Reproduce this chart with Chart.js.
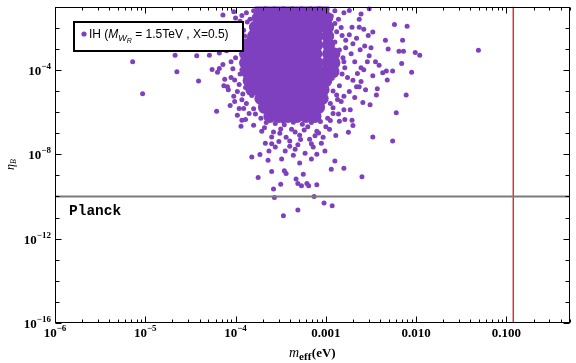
<!DOCTYPE html>
<html>
<head>
<meta charset="utf-8">
<script src="https://cdn.jsdelivr.net/npm/chart.js@4.4.0/dist/chart.umd.min.js"></script>
<style>
html, body { margin: 0; padding: 0; background: #fff; }
</style>
</head>
<body>
<canvas id="c" width="576" height="363"></canvas>
<script>
// values are stored as log10 exponents: [log10(m_eff), log10(eta_B)]
const outerPts = [
  [-5.14,-3.62],[-5.03,-5.14],[-4.67,-3.31],[-4.65,-4.09],[-4.43,-3.34],[-4.29,-3.31],
  [-4.41,-4.53],[-4.21,-5.97],[-4.14,-1.40],[-3.93,-1.43],[-1.31,-3.07],[-2.24,-1.85],
  [-2.10,-1.94],[-2.34,-2.60],[-2.15,-2.60],[-2.31,-3.02],[-2.19,-3.12],[-2.14,-3.12],
  [-2.01,-3.18],[-1.96,-3.31],[-2.16,-3.70],[-2.05,-4.12],[-2.26,-4.06],[-2.33,-4.06],
  [-2.32,-4.48],[-2.11,-5.19],[-2.22,-6.03],[-2.26,-7.38],[-2.48,-7.19],[-2.60,-9.07],
  [-2.80,-8.67],[-2.94,-8.71],[-2.90,-8.32],[-2.93,-10.44],[-3.02,-10.31],[-3.13,-10.00],
  [-3.31,-10.64],[-3.47,-10.92],[-3.57,-10.05],[-3.58,-9.65],[-3.50,-9.42],[-3.75,-9.11],
  [-3.60,-8.82],[-3.44,-8.92],[-3.46,-8.79],[-3.33,-9.18],[-3.31,-9.39],[-3.27,-9.50],
  [-3.21,-9.39],[-3.19,-9.50],[-3.10,-9.45],[-3.25,-8.95],[-3.82,-8.13],[-3.73,-8.01],
  [-3.64,-8.29],[-3.94,-6.68],[-3.93,-6.39],[-4.06,-5.69],[-4.01,-5.50],[-3.93,-5.42],
  [-3.96,-5.84],[-3.91,-5.84],[-4.14,-3.75],[-4.26,-3.98],[-4.20,-4.12],[-4.18,-3.94],
  [-4.13,-4.75],[-4.09,-4.80],[-4.08,-4.95],[-4.05,-4.37],[-4.01,-4.48],[-2.75,-6.96],
  [-2.70,-6.64],[-2.79,-6.35],[-2.71,-6.39],[-2.89,-7.11],[-2.80,-5.89],[-2.73,-5.89],
  [-2.59,-5.55],[-2.51,-5.66],[-2.44,-5.20],[-2.43,-4.90],[-2.56,-4.94],[-2.63,-4.80],
  [-2.80,-1.30],[-2.74,-1.19],[-2.52,-1.11],[-2.63,-1.61],[-2.61,-1.35],[-2.71,-1.98],
  [-2.63,-1.98],[-2.58,-2.08],[-2.48,-2.21],[-2.53,-2.37],[-2.82,-2.37],[-2.74,-2.34],
  [-2.78,-2.60],[-2.37,-4.14],[-2.41,-3.78]
];

// scattered points hugging the dense core
const fringePts = [
  [-2.90,-2.68],[-2.85,-3.06],[-2.81,-3.43],[-2.87,-3.71],[-2.79,-3.90],[-2.72,-3.24],
  [-2.68,-3.62],[-2.76,-4.37],[-2.65,-4.18],[-2.61,-3.90],[-2.85,-4.75],[-2.74,-5.03],
  [-2.68,-5.31],[-2.87,-5.41],[-2.52,-3.34],[-2.57,-2.87],[-2.48,-4.28],[-2.61,-4.56],
  [-2.92,-6.07],[-2.85,-6.44],[-2.96,-6.82],[-2.83,-5.50],[-2.54,-3.62],[-2.70,-2.77],
  [-2.50,-2.96],[-2.45,-3.62],
  [-2.90,-1.20],[-2.86,-1.60],[-2.83,-2.00],[-2.78,-2.95],[-2.92,-3.20],[-2.90,-3.95],
  [-2.82,-4.20],[-2.70,-4.50],[-2.93,-4.40],[-2.88,-5.20],[-2.80,-5.25],[-2.92,-5.80],
  [-2.86,-6.10],[-2.95,-6.40],[-2.66,-2.50],[-2.62,-3.05],[-2.58,-4.00],[-2.66,-4.80],
  [-2.94,-2.45],[-2.80,-3.62],
  [-3.87,-1.74],[-3.91,-2.12],[-3.85,-2.49],[-3.96,-2.87],[-3.89,-3.15],[-4.00,-3.43],
  [-3.85,-3.71],[-3.93,-4.00],[-4.05,-3.62],[-3.87,-4.37],[-3.98,-5.03],[-3.89,-4.84],
  [-3.82,-5.22],[-3.85,-6.07],[-3.89,-6.35],[-3.80,-6.63],[-4.07,-2.68],[-4.00,-2.21],
  [-4.02,-1.25],[-3.95,-1.70],[-4.08,-1.95],[-3.98,-2.55],[-4.10,-3.10],[-3.92,-3.30],
  [-4.03,-3.95],[-3.95,-4.20],[-4.12,-4.45],[-3.96,-4.70],[-3.84,-5.00],[-3.92,-5.15],
  [-4.02,-5.25],[-3.88,-5.60],[-3.80,-5.85],[-3.78,-6.10],[-3.98,-6.15],[-3.86,-2.90],
  [-3.83,-3.90],[-3.86,-4.10],[-4.15,-2.50],[-4.18,-3.20],[-4.00,-1.55],[-3.88,-1.30],
  [-3.71,-6.91],[-3.60,-7.19],[-3.51,-7.01],[-3.40,-7.38],[-3.29,-7.10],[-3.18,-7.29],
  [-3.10,-6.91],[-3.05,-7.48],[-3.56,-7.66],[-3.45,-7.85],[-3.34,-7.76],[-3.23,-7.95],
  [-3.14,-7.66],[-3.67,-7.48],[-3.49,-8.23],[-3.29,-8.42],[-3.16,-8.23],[-3.01,-7.85],
  [-3.38,-6.82],[-3.63,-7.85],
  [-3.66,-6.50],[-3.56,-6.55],[-3.46,-6.60],[-3.36,-6.48],[-3.26,-6.58],[-3.16,-6.50],
  [-3.06,-6.45],[-3.00,-6.70],[-3.50,-6.80],[-3.24,-6.85],[-3.12,-7.12],[-3.44,-7.20],
  [-3.31,-7.55],[-3.72,-6.30],[-2.98,-6.30],
  [-3.68,-6.75],[-3.58,-6.95],[-3.47,-6.45],[-3.34,-6.95],[-3.20,-6.70],[-3.08,-7.00],
  [-3.52,-7.40],[-3.40,-7.62],[-3.28,-7.30],[-3.16,-7.50],[-3.03,-7.20],[-3.60,-7.50],
  [-3.36,-8.05],[-3.10,-8.00],
  [-3.80,-1.20],[-3.84,-1.60],[-2.94,-1.45],[-2.90,-1.80],[-2.88,-2.20],[-2.92,-5.00],
  [-2.95,-5.60],[-3.90,-2.40],[-3.94,-3.00],[-3.88,-4.60]
];

// the solid blob, one row per eta exponent
const coreEta = [-1.13,-1.55,-1.98,-2.40,-2.82,-3.24,-3.67,-4.09,-4.51,-4.94,-5.36,-5.78,-6.21];
const coreM = [
  [-3.72,-3.62,-3.52,-3.42,-3.32,-3.22,-3.12,-3.03],
  [-3.75,-3.65,-3.55,-3.45,-3.35,-3.25,-3.15,-3.05,-2.99],
  [-3.78,-3.68,-3.58,-3.48,-3.38,-3.28,-3.18,-3.08,-2.98],
  [-3.80,-3.70,-3.60,-3.50,-3.40,-3.30,-3.20,-3.10,-2.98],
  [-3.88,-3.80,-3.70,-3.60,-3.50,-3.40,-3.30,-3.20,-3.10,-2.97],
  [-3.89,-3.81,-3.71,-3.61,-3.51,-3.41,-3.31,-3.21,-3.11,-2.97,-2.91],
  [-3.89,-3.80,-3.70,-3.60,-3.50,-3.40,-3.30,-3.20,-3.10,-2.98,-2.91],
  [-3.87,-3.78,-3.68,-3.58,-3.48,-3.38,-3.28,-3.18,-3.08,-2.99,-2.92],
  [-3.85,-3.76,-3.66,-3.56,-3.46,-3.36,-3.26,-3.16,-3.06,-3.00],
  [-3.82,-3.74,-3.64,-3.54,-3.44,-3.34,-3.24,-3.14,-3.03],
  [-3.72,-3.62,-3.52,-3.42,-3.32,-3.22,-3.12,-3.04],
  [-3.68,-3.58,-3.48,-3.38,-3.28,-3.18,-3.08],
  [-3.62,-3.52,-3.42,-3.32,-3.22,-3.12]
];

const planckEta = 1e-10;
const mCut = 0.119;

const xTicks = [1e-6, 1e-5, 1e-4, 1e-3, 1e-2, 1e-1];
const xTickLabels = ['10^-6', '10^-5', '10^-4', '0.001', '0.010', '0.100'];
const yTicks = [1e-16, 1e-12, 1e-8, 1e-4];
const yTickLabels = ['10^-16', '10^-12', '10^-8', '10^-4'];

const purple = '#7f40bf';

const toPoint = p => ({ x: Math.pow(10, p[0]), y: Math.pow(10, p[1]) });
const smallDots = outerPts.concat(fringePts).map(toPoint);
const bigDots = [];
coreEta.forEach((e, i) => coreM[i].forEach(m => bigDots.push(toPoint([m, e]))));

function drawPow(ctx, txt, x, y, align, size) {
    // "10^-4" style label, y is the baseline of the base
    const parts = txt.split('^');
    ctx.textAlign = 'left';
    ctx.textBaseline = 'alphabetic';
    const bf = 'bold ' + size + 'px "Liberation Serif"';
    const ef = 'bold ' + Math.round(size * 0.7) + 'px "Liberation Serif"';
    ctx.font = bf;
    const wb = ctx.measureText(parts[0]).width;
    let we = 0;
    if (parts[1]) { ctx.font = ef; we = ctx.measureText(parts[1].replace('-', '\u2212')).width; }
    const total = wb + we;
    let sx = align === 'center' ? x - total / 2 : (align === 'right' ? x - total : x);
    ctx.font = bf;
    ctx.fillText(parts[0], sx, y);
    if (parts[1]) {
        ctx.font = ef;
        ctx.fillText(parts[1].replace('-', '\u2212'), sx + wb, y - size * 0.45);
    }
}

const framePlugin = {
    id: 'frame',
    afterDraw(chart) {
        const { ctx, chartArea: a, scales: { x, y } } = chart;
        ctx.save();
        ctx.strokeStyle = '#000';
        ctx.fillStyle = '#000';
        ctx.lineWidth = 1;
        const L = Math.round(a.left) + 0.5, R = Math.round(a.right) - 0.5;
        const T = Math.round(a.top) + 0.5, B = Math.round(a.bottom) - 0.5;
        ctx.strokeRect(L, T, R - L, B - T);

        // x ticks, bottom and top, pointing inward
        ctx.beginPath();
        for (let d = -6; d <= -1; d++) {
            for (let k = 1; k <= 9; k++) {
                const v = k * Math.pow(10, d);
                if (v > x.max) break;
                const px = Math.round(x.getPixelForValue(v)) + 0.5;
                const len = k === 1 ? 6 : 3;
                ctx.moveTo(px, B); ctx.lineTo(px, B - len);
                ctx.moveTo(px, T); ctx.lineTo(px, T + len);
            }
        }
        // y ticks every decade
        for (let d = -16; d <= -1; d++) {
            const py = Math.round(y.getPixelForValue(Math.pow(10, d))) + 0.5;
            const len = d % 4 === 0 ? 6 : 4;
            ctx.moveTo(L, py); ctx.lineTo(L + len, py);
            ctx.moveTo(R, py); ctx.lineTo(R - len, py);
        }
        ctx.stroke();

        // tick labels
        xTicks.forEach((v, i) => {
            drawPow(ctx, xTickLabels[i], x.getPixelForValue(v), 337, 'center', 13);
        });
        yTicks.forEach((v, i) => {
            drawPow(ctx, yTickLabels[i], 51, y.getPixelForValue(v) + 5, 'right', 13);
        });

        // x title: m_eff(eV)
        ctx.textAlign = 'left';
        ctx.font = 'italic 14px "Liberation Serif"';
        let cx = 289;
        ctx.fillText('m', cx, 357);
        cx += ctx.measureText('m').width;
        ctx.font = 'bold 11px "Liberation Serif"';
        ctx.fillText('eff', cx, 360);
        cx += ctx.measureText('eff').width + 0.5;
        ctx.font = 'bold 13px "Liberation Serif"';
        ctx.fillText('(eV)', cx, 357);

        // y title: eta_B
        ctx.save();
        ctx.translate(14, 170);
        ctx.rotate(-Math.PI / 2);
        ctx.font = 'italic 12px "Liberation Serif"';
        ctx.fillText('\u03b7', 0, 0);
        const we = ctx.measureText('\u03b7').width;
        ctx.font = 'italic 8px "Liberation Serif"';
        ctx.fillText('B', we, 2);
        ctx.restore();

        // Planck label
        ctx.font = 'bold 14.5px "Liberation Mono"';
        ctx.fillText('Planck', 69, 215);

        // legend box
        ctx.fillStyle = '#fff';
        ctx.fillRect(73, 21, 170, 30);
        ctx.lineWidth = 2;
        ctx.strokeStyle = '#000';
        ctx.strokeRect(74, 22, 169, 29);
        ctx.fillStyle = purple;
        ctx.beginPath();
        ctx.arc(84, 34, 2.6, 0, Math.PI * 2);
        ctx.fill();
        ctx.fillStyle = '#000';
        let lx = 89;
        const by = 38;
        ctx.font = '12px "Liberation Sans"';
        ctx.fillText('IH (', lx, by);
        lx += ctx.measureText('IH (').width;
        ctx.font = 'italic 12px "Liberation Sans"';
        ctx.fillText('M', lx, by);
        lx += ctx.measureText('M').width;
        ctx.font = 'italic 9px "Liberation Sans"';
        ctx.fillText('W', lx, by + 3);
        lx += ctx.measureText('W').width;
        ctx.font = 'italic 7px "Liberation Sans"';
        ctx.fillText('R', lx, by + 5);
        lx += ctx.measureText('R').width;
        ctx.font = '12px "Liberation Sans"';
        ctx.fillText(' = 1.5TeV , X=0.5)', lx, by);
        ctx.restore();
    }
};

new Chart(document.getElementById('c'), {
    type: 'scatter',
    data: {
        datasets: [
            {
                type: 'line',
                data: [{ x: 1e-6, y: planckEta }, { x: 0.5, y: planckEta }],
                borderColor: '#7a7a7a',
                borderWidth: 2,
                pointRadius: 0,
                order: 0
            },
            {
                type: 'line',
                data: [{ x: mCut, y: 1e-16 }, { x: mCut, y: 1e-1 }],
                borderColor: '#dd0000',
                borderWidth: 1.2,
                pointRadius: 0,
                order: 0
            },
            {
                data: smallDots,
                backgroundColor: purple,
                borderWidth: 0,
                pointRadius: 2.5,
                order: 1
            },
            {
                data: bigDots,
                backgroundColor: purple,
                borderWidth: 0,
                pointRadius: 6.5,
                order: 2
            }
        ]
    },
    options: {
        responsive: false,
        animation: false,
        layout: { padding: { left: 55, right: 4, top: 5, bottom: 40 } },
        plugins: { legend: { display: false }, tooltip: { enabled: false } },
        scales: {
            x: { type: 'logarithmic', min: 1e-6, max: 0.5, display: false },
            y: { type: 'logarithmic', min: 1e-16, max: 1e-1, display: false }
        }
    },
    plugins: [framePlugin]
});
</script>
</body>
</html>
